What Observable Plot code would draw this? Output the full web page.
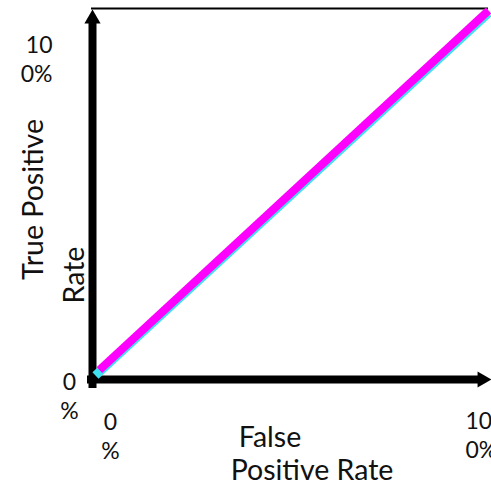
<!DOCTYPE html>
<html>
<head>
<meta charset="utf-8">
<script src="https://cdn.jsdelivr.net/npm/d3@7"></script>
<script src="https://cdn.jsdelivr.net/npm/@observablehq/plot@0.6"></script>
<style>
  html, body { margin: 0; padding: 0; background: #ffffff; }
  #chart svg { display: block; }
</style>
</head>
<body>
<div id="chart"></div>
<script>
// ROC curve data (percent)
const cyanFpr = [0, 100];
const cyanTpr = [0, 99.3];
const magentaFpr = [1, 100];
const magentaTpr = [1.5, 100];

// tick labels
const yTickTop = "10\n0%";
const yTickBottom = "0\n%";
const xTickLeft = "0\n%";
const xTickRight = "10\n0%";

// axis titles
const xTitle = ["False", "Positive Rate"];
const yTitle = ["True Positive", "Rate"];

const cyanData = cyanFpr.map((x, i) => ({x, y: cyanTpr[i]}));
const magentaData = magentaFpr.map((x, i) => ({x, y: magentaTpr[i]}));

const font = "Lato, 'Open Sans', sans-serif";
const tickStyle = {fontSize: 23, fill: "#111", lineHeight: 1.27, lineAnchor: "middle", fontFamily: font};
const titleStyle = {fontSize: 28.5, fill: "#111", fontFamily: font, lineAnchor: "middle", textAnchor: "middle"};

const chart = Plot.plot({
  width: 491,
  height: 493,
  marginLeft: 95,
  marginRight: 3,
  marginTop: 10,
  marginBottom: 118,
  style: {background: "#ffffff", fontFamily: font},
  x: {domain: [0, 100], axis: null},
  y: {domain: [0, 100], axis: null},
  marks: [
    // top frame line
    Plot.ruleY([100], {x1: 0, x2: 100, dy: -2, insetLeft: -4, stroke: "black", strokeWidth: 2}),
    // y axis
    Plot.ruleX([0], {y1: 0, y2: 100, dx: -3, insetTop: 13, insetBottom: -8, stroke: "black", strokeWidth: 8}),
    Plot.dot([{x: 0, y: 100}], {x: "x", y: "y", dx: -3, dy: 8.3, r: 6, symbol: "triangle", fill: "black", stroke: "none"}),
    // x axis
    Plot.ruleY([0], {x1: 0, x2: 100, dy: 4, insetLeft: -8, insetRight: 6, stroke: "black", strokeWidth: 8}),
    Plot.dot([{x: 100, y: 0}], {x: "x", y: "y", dx: -6.3, dy: 4, r: 6, symbol: "triangle", rotate: 90, fill: "black", stroke: "none"}),
    // curves
    Plot.line(cyanData, {x: "x", y: "y", stroke: "#3fe0ef", strokeWidth: 9, strokeLinecap: "butt"}),
    Plot.line(magentaData, {x: "x", y: "y", stroke: "#ff00ff", strokeWidth: 8, strokeLinecap: "butt"}),
    // tick labels
    Plot.text([yTickTop], {x: 0, y: 100, text: d => d, textAnchor: "end", dx: -43, dy: 47.5, ...tickStyle}),
    Plot.text([yTickBottom], {x: 0, y: 0, text: d => d, textAnchor: "middle", dx: -26, dy: 19.5, ...tickStyle}),
    Plot.text([xTickLeft], {x: 0, y: 0, text: d => d, textAnchor: "middle", dx: 15, dy: 60, ...tickStyle}),
    Plot.text([xTickRight], {x: 100, y: 0, text: d => d, textAnchor: "start", dx: -23, dy: 59, ...tickStyle}),
    // x title
    Plot.text([xTitle[0]], {frameAnchor: "bottom", text: d => d, dx: -22, dy: 62, ...titleStyle}),
    Plot.text([xTitle[1]], {frameAnchor: "bottom", text: d => d, dx: 20, dy: 95, ...titleStyle}),
    // y title
    Plot.text([yTitle[0]], {frameAnchor: "left", text: d => d, rotate: -90, dx: -62, dy: 6.5, ...titleStyle}),
    Plot.text([yTitle[1]], {frameAnchor: "left", text: d => d, rotate: -90, dx: -21, dy: 82, ...titleStyle})
  ]
});
document.getElementById("chart").appendChild(chart);
</script>
</body>
</html>
